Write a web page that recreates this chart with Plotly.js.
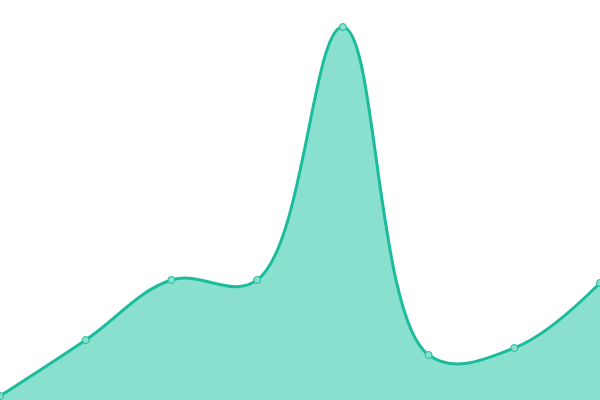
<!DOCTYPE html>
<html>
<head>
<meta charset="utf-8">
<script src="https://cdn.plot.ly/plotly-3.0.1.min.js"></script>
<style>
  html, body { margin: 0; padding: 0; background: #fff; }
  #chart { width: 600px; height: 400px; }
</style>
</head>
<body>
<div id="chart"></div>
<script>
  const steps = [0, 1, 2, 3, 4, 5, 6, 7];
  const values = [4, 60, 120, 120, 373, 45, 52, 117];

  var area = {
    x: steps,
    y: values,
    mode: 'lines+markers',
    type: 'scatter',
    fill: 'tozeroy',
    fillcolor: '#89e0ce',
    line: { color: '#1abc9c', width: 3, shape: 'spline', smoothing: 1.1 },
    marker: {
      size: 7,
      color: '#8ae0cf',
      line: { color: '#1abc9c', width: 1 }
    },
    hoverinfo: 'none'
  };

  var layout = {
    width: 600,
    height: 400,
    margin: { l: 0, r: 0, t: 0, b: 0 },
    paper_bgcolor: '#fff',
    plot_bgcolor: '#fff',
    showlegend: false,
    xaxis: { range: [0, 7], visible: false, fixedrange: true },
    yaxis: { range: [0, 400], visible: false, fixedrange: true }
  };

  Plotly.newPlot('chart', [area], layout, { displayModeBar: false, staticPlot: true });
</script>
</body>
</html>
